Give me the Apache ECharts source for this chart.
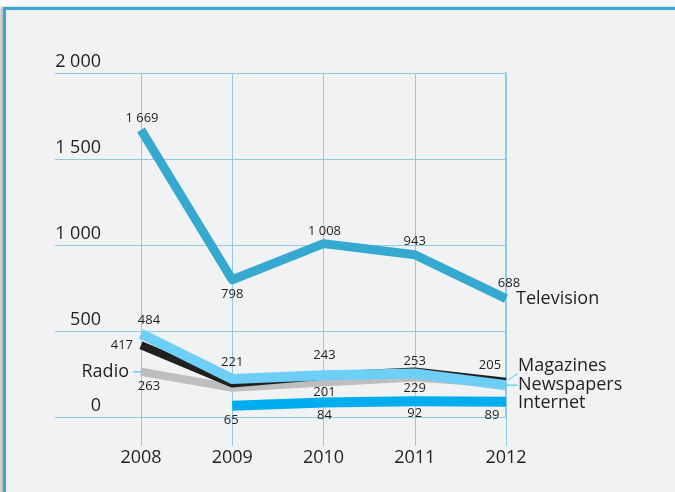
<!DOCTYPE html>
<html><head><meta charset="utf-8">
<script src="https://cdn.jsdelivr.net/npm/echarts@6/dist/echarts.min.js"></script>
<style>
html,body{margin:0;padding:0;background:#fff;width:675px;height:492px;overflow:hidden;}
#frame{position:absolute;left:3px;top:7px;width:700px;height:500px;background:#f1f2f4;border-left:3px solid #35a8d4;border-top:3px solid #35a8d4;box-shadow:-3px 0 3px #bdbdbd;}
#chart{position:absolute;left:0;top:0;width:675px;height:492px;}
</style></head><body><div id="frame"></div><div id="chart"></div>
<script>
// ---- data ----
const years = ['2008', '2009', '2010', '2011', '2012'];
const yTicks = [0, 500, 1000, 1500, 2000];
const television = [1669, 798, 1008, 943, 688];
const newspapers = [484, 221, 243, 253, 185];
const magazines = [417, 195, 240, 264, 205];
const radio = [263, 170, 201, 229, 192];
const internet = [null, 65, 84, 92, 89];

// ---- style / layout ----
const FONT = '"Open Sans", sans-serif';
const TXT = '#231f20';
const GRIDC = '#8fc9e2';
const fmt = v => String(v).replace(/\B(?=(\d{3})+(?!\d))/g, ' ');

// per-point value label layout: [position, distance, dx, dy] or null
const lay = {
  television: [['top', 5, 1, 0], ['bottom', 8, 0, 0], ['top', 6, 1, 0], ['top', 7, 0, 0], ['top', 9, 3, 0]],
  newspapers: [['top', 7, 8, 0], ['top', 10, 0, 0], ['top', 13, 1, 0], ['top', 6, 0, 0], null],
  magazines: [['left', 8, 0, 0], null, null, null, ['top', 10, -16, 0]],
  radio: [['bottom', 8, 8, 0], null, ['bottom', 3, 1, 0], ['bottom', 4, 0, 0], null],
  internet: [null, ['bottom', 8, -1, 0], ['bottom', 6, 1, 0], ['bottom', 6, 0, 0], ['bottom', 7, -14, 0]]
};

function build(values, layout) {
  return values.map((v, i) => {
    if (v == null) return '-';
    const l = layout[i];
    return {
      value: v,
      label: l ? { show: true, position: l[0], distance: l[1], offset: [l[2], l[3]] } : { show: false }
    };
  });
}

const nameLabel = (dy, dist) => ({
  show: true, formatter: p => p.seriesName, color: TXT, fontFamily: FONT, fontSize: 18,
  distance: dist, offset: [0, dy]
});

function line(name, values, color, width, layout, extra) {
  return Object.assign({
    name, type: 'line', xAxisIndex: 1, yAxisIndex: 1,
    data: build(values, layout),
    symbol: 'circle', symbolSize: 0, showSymbol: true,
    itemStyle: { color },
    lineStyle: { color, width, cap: 'butt', join: 'round' },
    label: { show: false, color: TXT, fontFamily: FONT, fontSize: 13, formatter: p => fmt(p.value) },
    silent: true, clip: false, animation: false
  }, extra || {});
}

const leader = '#6dcff6';

const option = {
  animation: false,
  grid: [
    { left: 55, right: 169, top: 73, bottom: 75 },
    { left: 141, right: 169, top: 73, bottom: 75 }
  ],
  xAxis: [
    { gridIndex: 0, type: 'category', data: years, show: false },
    {
      gridIndex: 1, type: 'category', data: years, boundaryGap: false,
      axisLine: { show: false },
      axisTick: { show: true, length: 29, lineStyle: { color: GRIDC, width: 1 } },
      splitLine: { show: true, lineStyle: { color: GRIDC, width: 1 } },
      axisLabel: { color: TXT, fontFamily: FONT, fontSize: 18, margin: 32 }
    }
  ],
  yAxis: [
    {
      gridIndex: 0, type: 'value', min: yTicks[0], max: yTicks[yTicks.length - 1], interval: yTicks[1] - yTicks[0],
      axisLine: { show: false }, axisTick: { show: false },
      splitLine: { show: true, lineStyle: { color: GRIDC, width: 1 } },
      axisLabel: {
        formatter: v => fmt(v), color: TXT, fontFamily: FONT, fontSize: 18,
        align: 'right', margin: -46, verticalAlign: 'bottom', lineHeight: 22
      }
    },
    {
      gridIndex: 1, type: 'value', min: yTicks[0], max: yTicks[yTicks.length - 1], position: 'right',
      axisLine: { show: true, lineStyle: { color: GRIDC, width: 2 } },
      axisTick: { show: false }, axisLabel: { show: false }, splitLine: { show: false }
    }
  ],
  series: [
    line('Radio', radio, '#bcbec0', 8, lay.radio, {
      markPoint: {
        symbol: 'rect', symbolSize: [8, 1.5], symbolOffset: [-4, 0],
        itemStyle: { color: leader }, silent: true, animation: false,
        label: { show: true, position: 'left', distance: 4, formatter: 'Radio', color: TXT, fontFamily: FONT, fontSize: 18 },
        data: [{ coord: [years[0], radio[0]] }]
      }
    }),
    line('Magazines', magazines, '#231f20', 8, lay.magazines, {
      endLabel: nameLabel(-16, 12),
      markPoint: {
        symbol: 'path://M0,6.2L9.2,0L10,0.8L0.8,7Z', symbolSize: [10, 7], symbolOffset: [7, -5],
        itemStyle: { color: leader }, silent: true, animation: false, label: { show: false },
        data: [{ coord: [years[4], magazines[4]] }]
      }
    }),
    line('Newspapers', newspapers, '#6dcff6', 10, lay.newspapers, {
      endLabel: nameLabel(0, 12),
      markPoint: {
        symbol: 'rect', symbolSize: [11, 1.5], symbolOffset: [6, 0],
        itemStyle: { color: leader }, silent: true, animation: false, label: { show: false },
        data: [{ coord: [years[4], newspapers[4]] }]
      }
    }),
    line('Internet', internet, '#00aeef', 10, lay.internet, { endLabel: nameLabel(1, 12) }),
    line('Television', television, '#35a9cf', 9, lay.television, { endLabel: nameLabel(0, 10) })
  ]
};

const chart = echarts.init(document.getElementById('chart'), null, { renderer: 'canvas' });
chart.setOption(option);
</script>
</body></html>
